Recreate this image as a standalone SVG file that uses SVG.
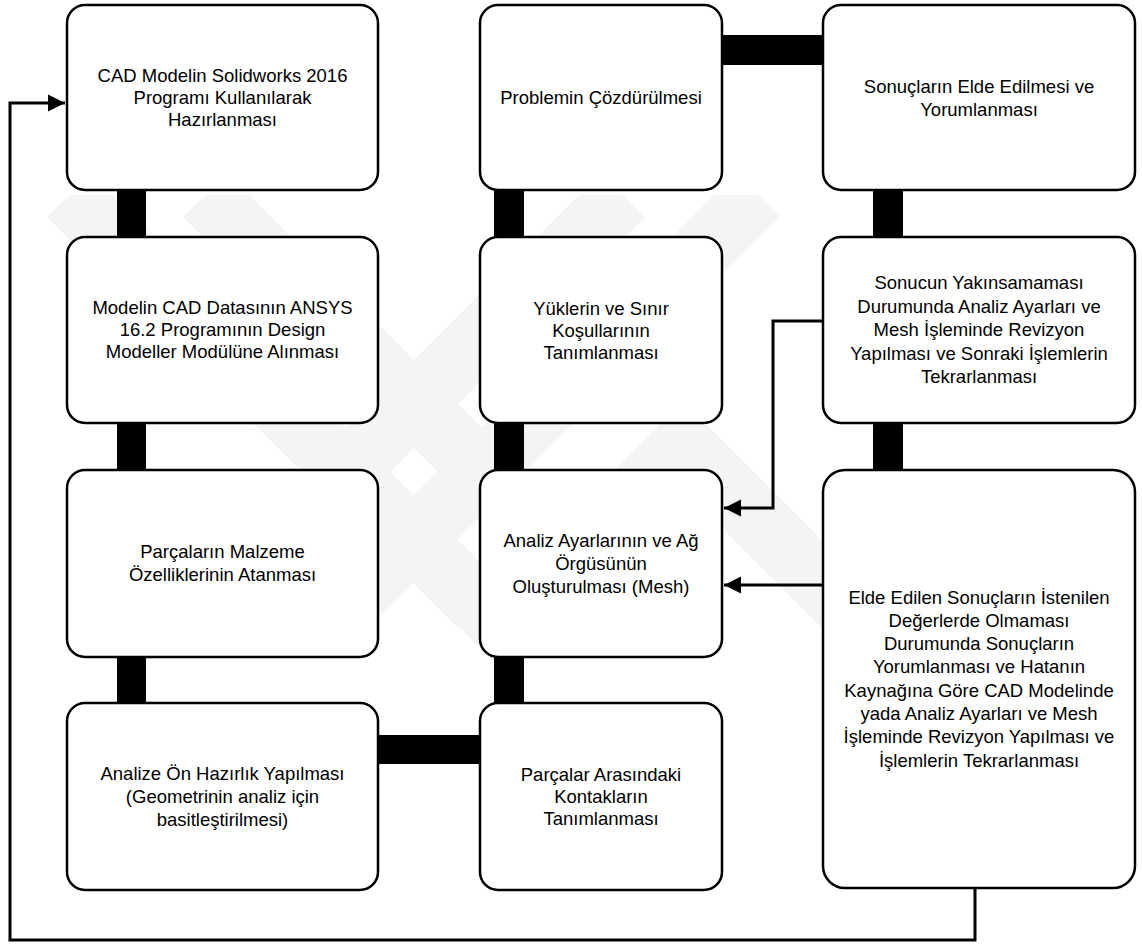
<svg xmlns="http://www.w3.org/2000/svg" width="1142" height="947" viewBox="0 0 1142 947">
<defs>
<style>
.box{fill:#fff;stroke:#000;stroke-width:2.5}
.t{font-family:"Liberation Sans",Arial,sans-serif;font-size:18.5px;fill:#000;text-anchor:middle}
.bar{fill:#000}
.ln{fill:none;stroke:#000;stroke-width:3}
.wm{stroke:#f4f4f4;stroke-width:62;fill:none}
</style>
<marker id="ah" viewBox="0 0 10 10" refX="10" refY="5" markerWidth="5.8" markerHeight="5.8" orient="auto" markerUnits="strokeWidth">
<path d="M0,0 L10,5 L0,10 Z" fill="#000"/>
</marker>
<clipPath id="wmclip"><rect x="0" y="195" width="1142" height="465"/></clipPath>
</defs>
<rect width="1142" height="947" fill="#fff"/>
<g id="watermark" clip-path="url(#wmclip)">
<line class="wm" x1="69" y1="195" x2="480" y2="606"/>
<line class="wm" x1="205" y1="195" x2="560" y2="550"/>
<line class="wm" x1="623" y1="195" x2="250" y2="568"/>
<line class="wm" x1="758" y1="195" x2="350" y2="603"/>
<path class="wm" d="M480,648 L683,445 L890,652"/>
</g>
<g id="connectors">
<rect class="bar" x="117" y="188" width="29" height="51"/>
<rect class="bar" x="117" y="421" width="29" height="51"/>
<rect class="bar" x="117" y="655" width="29" height="50"/>
<rect class="bar" x="494" y="188" width="30" height="51"/>
<rect class="bar" x="494" y="421" width="30" height="51"/>
<rect class="bar" x="494" y="655" width="30" height="50"/>
<rect class="bar" x="873" y="188" width="30" height="51"/>
<rect class="bar" x="873" y="421" width="30" height="51"/>
<rect class="bar" x="720" y="35" width="105" height="30"/>
<rect class="bar" x="376" y="735" width="106" height="29"/>
<path class="ln" d="M825,321 H773 V508 H724" marker-end="url(#ah)"/>
<path class="ln" d="M827,585 H724" marker-end="url(#ah)"/>
<path class="ln" d="M975,888 V940 H10 V103 H65" marker-end="url(#ah)"/>
</g>
<g id="n1"><rect class="box" x="67" y="5" width="311" height="185" rx="18"/>
<text class="t" x="222.5" y="82">CAD Modelin Solidworks 2016</text>
<text class="t" x="222.5" y="104">Programı Kullanılarak</text>
<text class="t" x="222.5" y="126">Hazırlanması</text></g>
<g id="n2"><rect class="box" x="67" y="237" width="311" height="186" rx="18"/>
<text class="t" x="222.5" y="314">Modelin CAD Datasının ANSYS</text>
<text class="t" x="222.5" y="336">16.2 Programının Design</text>
<text class="t" x="222.5" y="358">Modeller Modülüne Alınması</text></g>
<g id="n3"><rect class="box" x="67" y="470" width="311" height="187" rx="18"/>
<text class="t" x="222.5" y="558">Parçaların Malzeme</text>
<text class="t" x="222.5" y="581">Özelliklerinin Atanması</text></g>
<g id="n4"><rect class="box" x="67" y="703" width="311" height="187" rx="18"/>
<text class="t" x="222.5" y="780">Analize Ön Hazırlık Yapılması</text>
<text class="t" x="222.5" y="803">(Geometrinin analiz için</text>
<text class="t" x="222.5" y="826">basitleştirilmesi)</text></g>
<g id="n5"><rect class="box" x="480" y="5" width="242" height="185" rx="18"/>
<text class="t" x="601" y="104">Problemin Çözdürülmesi</text></g>
<g id="n6"><rect class="box" x="480" y="237" width="242" height="186" rx="18"/>
<text class="t" x="601" y="315">Yüklerin ve Sınır</text>
<text class="t" x="601" y="337">Koşullarının</text>
<text class="t" x="601" y="359">Tanımlanması</text></g>
<g id="n7"><rect class="box" x="480" y="470" width="242" height="187" rx="18"/>
<text class="t" x="601" y="547">Analiz Ayarlarının ve Ağ</text>
<text class="t" x="601" y="570">Örgüsünün</text>
<text class="t" x="601" y="593">Oluşturulması (Mesh)</text></g>
<g id="n8"><rect class="box" x="480" y="703" width="242" height="187" rx="18"/>
<text class="t" x="601" y="781">Parçalar Arasındaki</text>
<text class="t" x="601" y="803">Kontakların</text>
<text class="t" x="601" y="825">Tanımlanması</text></g>
<g id="n9"><rect class="box" x="823" y="5" width="312" height="185" rx="18"/>
<text class="t" x="979" y="92.5">Sonuçların Elde Edilmesi ve</text>
<text class="t" x="979" y="115.5">Yorumlanması</text></g>
<g id="n10"><rect class="box" x="823" y="237" width="312" height="186" rx="18"/>
<text class="t" x="979" y="289">Sonucun Yakınsamaması</text>
<text class="t" x="979" y="312.5">Durumunda Analiz Ayarları ve</text>
<text class="t" x="979" y="336">Mesh İşleminde Revizyon</text>
<text class="t" x="979" y="359.5">Yapılması ve Sonraki İşlemlerin</text>
<text class="t" x="979" y="383">Tekrarlanması</text></g>
<g id="n11"><rect class="box" x="823" y="470" width="312" height="418" rx="22"/>
<text class="t" x="979" y="603.5">Elde Edilen Sonuçların İstenilen</text>
<text class="t" x="979" y="626.8">Değerlerde Olmaması</text>
<text class="t" x="979" y="650">Durumunda Sonuçların</text>
<text class="t" x="979" y="673.4">Yorumlanması ve Hatanın</text>
<text class="t" x="979" y="696.7">Kaynağına Göre CAD Modelinde</text>
<text class="t" x="979" y="720">yada Analiz Ayarları ve Mesh</text>
<text class="t" x="979" y="743.3">İşleminde Revizyon Yapılması ve</text>
<text class="t" x="979" y="766.6">İşlemlerin Tekrarlanması</text></g>
</svg>
